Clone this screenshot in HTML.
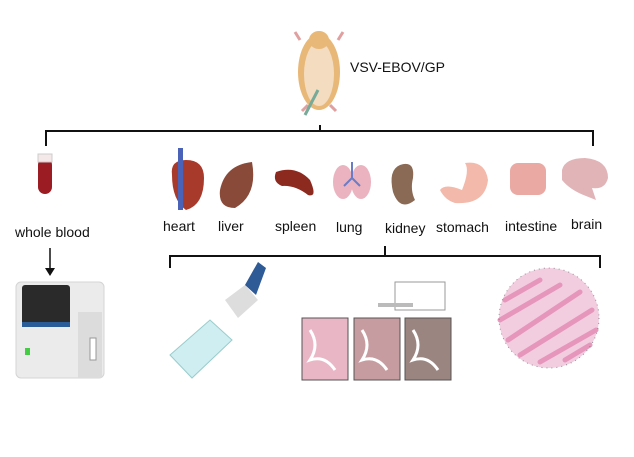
<!DOCTYPE html>
<html><head><style>
body{margin:0;background:#fff}
svg{display:block}
text{font-family:"Liberation Sans",sans-serif;fill:#111}
</style></head><body>
<svg width="634" height="457" viewBox="0 0 634 457" xmlns="http://www.w3.org/2000/svg">
<rect width="634" height="457" fill="#fff"/>
<!-- hamster -->
<ellipse cx="319" cy="72" rx="21" ry="38" fill="#e8b878"/>
<ellipse cx="319" cy="74" rx="15" ry="32" fill="#f3dcc0"/>
<ellipse cx="319" cy="40" rx="10" ry="9" fill="#e8b878"/>
<path d="M300 40 l-5 -8 M338 40 l5 -8 M308 105 l-6 6 M330 105 l6 6" stroke="#e0a0a0" stroke-width="3"/>
<path d="M305 115 L318 90" stroke="#7a9" stroke-width="3"/>
<text x="350" y="72" font-size="14">VSV-EBOV/GP</text>
<!-- top bracket -->
<path d="M320 125 V131 M46 146 V131 H593 V146" stroke="#111" stroke-width="2" fill="none"/>
<!-- blood tube -->
<rect x="38" y="158" width="14" height="36" rx="7" fill="#9b1c22"/>
<rect x="38" y="154" width="14" height="8" fill="#f4e8e8" stroke="#ccc"/>
<text x="15" y="237" font-size="14">whole blood</text>
<path d="M50 248 V270" stroke="#111" stroke-width="1.5"/>
<path d="M45 268 L50 276 L55 268Z" fill="#111"/>
<!-- analyzer -->
<rect x="16" y="282" width="88" height="96" rx="5" fill="#ebebeb" stroke="#d4d4d4"/>
<rect x="22" y="285" width="48" height="42" rx="3" fill="#2a2a2a"/>
<rect x="22" y="322" width="48" height="5" fill="#2a5c9a"/>
<rect x="78" y="312" width="24" height="66" fill="#dcdcdc"/>
<rect x="90" y="338" width="6" height="22" fill="#fff" stroke="#999"/>
<rect x="25" y="348" width="5" height="7" fill="#4c4" />
<!-- organs -->
<path d="M172 175 Q170 160 186 160 Q204 160 204 178 Q204 205 186 210 Q172 200 172 175Z" fill="#a83a2c"/>
<rect x="178" y="148" width="5" height="62" fill="#4a63b8"/>
<path d="M220 190 Q225 165 252 162 Q258 195 235 208 Q218 208 220 190Z" fill="#8a4a3a"/>
<path d="M276 172 Q296 165 310 180 Q318 198 308 195 Q295 185 282 186 Q272 182 276 172Z" fill="#8d2a20"/>
<ellipse cx="343" cy="182" rx="10" ry="17" fill="#eab3bf"/>
<ellipse cx="361" cy="182" rx="10" ry="17" fill="#eab3bf"/>
<path d="M352 162 V178 L344 186 M352 178 L360 186" stroke="#6a7cc8" stroke-width="2" fill="none"/>
<path d="M400 165 Q415 160 413 178 Q410 190 415 200 Q400 212 393 192 Q388 170 400 165Z" fill="#8a6a55"/>
<path d="M440 190 Q445 183 462 190 Q470 170 465 163 Q485 160 488 180 Q485 205 455 203 Q445 200 440 190Z" fill="#f3b9ab"/>
<rect x="510" y="163" width="36" height="32" rx="8" fill="#eaa9a3"/>
<path d="M562 170 Q565 158 585 158 Q608 160 608 178 Q605 190 592 188 L596 200 L586 196 Q570 190 562 180Z" fill="#e1b4b8"/>
<g font-size="14">
<text x="163" y="231">heart</text>
<text x="218" y="231">liver</text>
<text x="275" y="231">spleen</text>
<text x="336" y="232">lung</text>
<text x="385" y="233">kidney</text>
<text x="436" y="232">stomach</text>
<text x="505" y="231">intestine</text>
<text x="571" y="229">brain</text>
</g>
<!-- lower bracket -->
<path d="M385 246 V256 M170 268 V256 H600 V268" stroke="#111" stroke-width="2" fill="none"/>
<!-- pipette + plate -->
<path d="M170 355 L210 320 L232 340 L192 378Z" fill="#cfeef2" stroke="#9cc"/>
<path d="M225 300 L245 285 L258 300 L238 318Z" fill="#ddd"/>
<path d="M245 285 L258 262 L266 268 L256 295Z" fill="#2e5a96"/>
<!-- IHC panels -->
<rect x="302" y="318" width="46" height="62" fill="#e9b6c6" stroke="#555"/>
<rect x="354" y="318" width="46" height="62" fill="#c79ca0" stroke="#555"/>
<rect x="405" y="318" width="46" height="62" fill="#9a8580" stroke="#555"/>
<path d="M310 330 q10 15 0 30 q15 -5 25 10 M362 330 q10 15 0 30 q15 -5 25 10 M413 330 q10 15 0 30 q15 -5 25 10" stroke="#fff" stroke-width="3" fill="none"/>
<rect x="395" y="282" width="50" height="28" fill="#fff" stroke="#999"/>
<rect x="378" y="303" width="35" height="4" fill="#bbb"/>
<!-- histology circle -->
<circle cx="549" cy="318" r="50" fill="#f2cde0"/>
<g stroke="#e58fb8" stroke-width="5" stroke-linecap="round" opacity="0.9">
<path d="M505 300 L540 280 M500 320 L560 285 M508 340 L580 292 M520 355 L592 310 M540 362 L596 330 M565 360 L590 345"/>
</g>
<circle cx="549" cy="318" r="50" fill="none" stroke="#555" stroke-width="1" stroke-dasharray="1 4" opacity="0.6"/>
</svg>
</body></html>
